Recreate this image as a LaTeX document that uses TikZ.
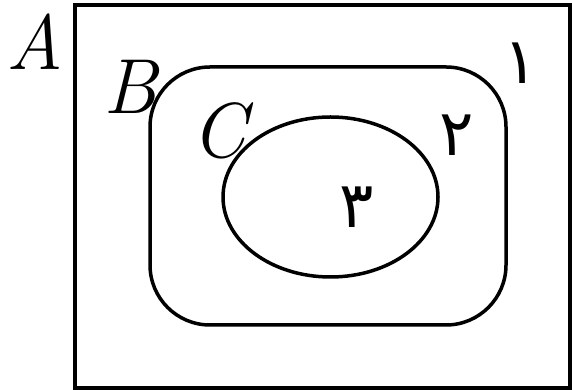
\documentclass[tikz,border=0pt]{standalone}
\usepackage{fontspec}
\usepackage{tikz}
\TeXXeTstate=1
\newfontfamily\arabicfont[Script=Arabic]{DejaVu Sans}
\tikzset{
  setline/.style={line width=3.5pt, draw=black},
  setname/.style={font=\fontsize{78}{78}\selectfont\itshape, inner sep=0pt},
  region/.style={font=\fontsize{64}{64}\selectfont\arabicfont, inner sep=0pt}
}

\begin{document}
\begin{tikzpicture}[x=1pt, y=1pt]
  \useasboundingbox (0,0) rectangle (572,390);

  % Sets
  \draw[setline] (75,2) rectangle (570,385);
  \draw[setline, rounded corners=60pt] (150,65) rectangle (506,323);
  \draw[setline] (330.5,193) ellipse (107.5 and 80);

  % Set names
  \node[setname] (nameA) at (35,348) {A};
  \node[setname] (nameB) at (130,303) {B};
  \node[setname] (nameC) at (219,259) {C};

  % Regions
  \node[region] (one) at (521,327) {\beginR ۱\endR};
  \node[region] (two) at (457,255) {\beginR ۲\endR};
  \node[region] (three) at (357,183) {\beginR ۳\endR};
\end{tikzpicture}
\end{document}
